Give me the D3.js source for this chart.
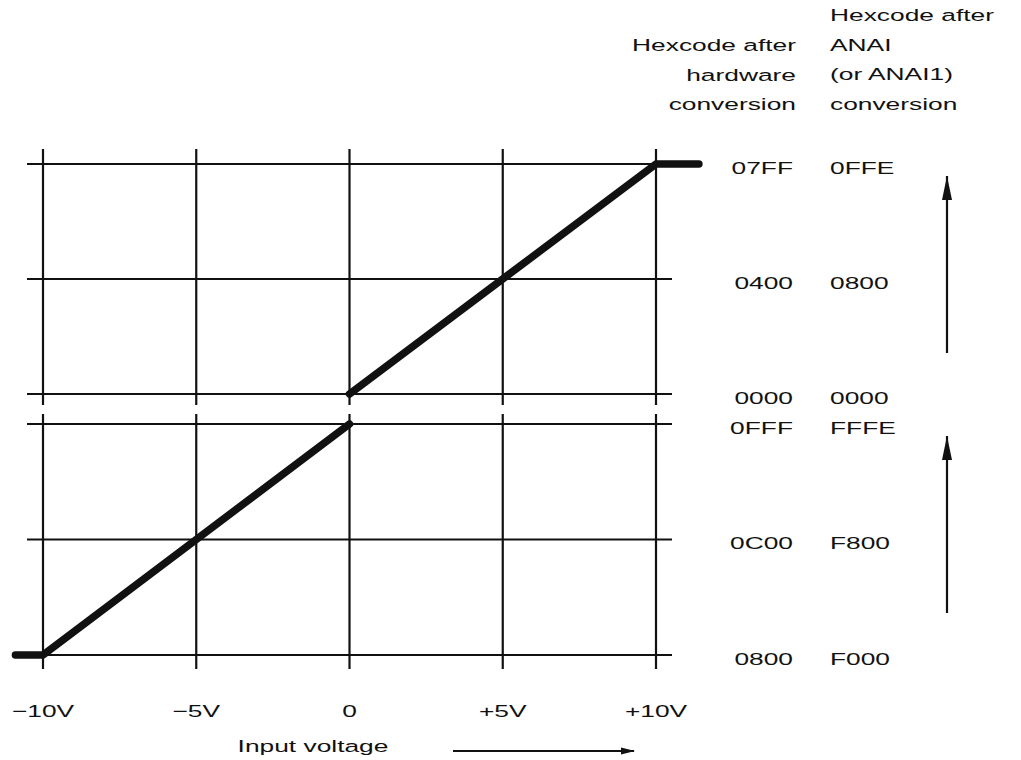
<!DOCTYPE html>
<html>
<head>
<meta charset="utf-8">
<script src="https://cdn.jsdelivr.net/npm/d3@7"></script>
<style>
  html, body { margin: 0; padding: 0; background: #fff; }
  svg { display: block; }
  text { font-family: "Liberation Sans", Arial, Helvetica, sans-serif; fill: #111; }
</style>
</head>
<body>
<svg id="chart" width="1021" height="760"></svg>
<script>
// ---- data ----
const voltTicks = [-10, -5, 0, 5, 10];
const voltLabels = ["\u221210V", "\u22125V", "0", "+5V", "+10V"];
const upperCodes = [0x0000, 0x0400, 0x07FF];
const upperHwLabels = ["0000", "0400", "07FF"];
const upperAnaiLabels = ["0000", "0800", "0FFE"];
const lowerCodes = [0x0800, 0x0C00, 0x0FFF];
const lowerHwLabels = ["0800", "0C00", "0FFF"];
const lowerAnaiLabels = ["F000", "F800", "FFFE"];
// transfer characteristic: [voltage, hardware code]
const upperCurve = [[0, 0x0000], [10, 0x07FF], [11.4, 0x07FF]];
const lowerCurve = [[-10.9, 0x0800], [-10, 0x0800], [0, 0x0FFF]];
const headerHw = ["Hexcode after", "hardware", "conversion"];
const headerAnai = ["Hexcode after", "ANAI", "(or ANAI1)", "conversion"];
const xTitle = "Input voltage";

// ---- layout ----
const svg = d3.select("#chart");
const x = d3.scaleLinear().domain([-10, 10]).range([43, 656]);
const yUp = d3.scaleLinear().domain([0x0000, 0x07FF]).range([394, 164]);
const yLo = d3.scaleLinear().domain([0x0800, 0x0FFF]).range([655, 424]);
const SX = 1.55;       // horizontal stretch of the lettering
const FS = 17;

function label(g, txt, px, py, anchor) {
  g.append("text")
    .attr("transform", `translate(${px},${py}) scale(${SX},1)`)
    .attr("text-anchor", anchor)
    .style("font-size", FS + "px")
    .text(txt);
}

const grid = svg.append("g").attr("stroke", "#111").attr("fill", "none");

function panel(yScale, codes, vTop, vBot) {
  grid.selectAll(null).data(codes).enter().append("line")
    .attr("x1", x.range()[0] - 16).attr("x2", x.range()[1] + 16)
    .attr("y1", d => yScale(d)).attr("y2", d => yScale(d))
    .attr("stroke-width", 2);
  grid.selectAll(null).data(voltTicks).enter().append("line")
    .attr("x1", d => x(d)).attr("x2", d => x(d))
    .attr("y1", yScale.range()[1] - vTop).attr("y2", yScale.range()[0] + vBot)
    .attr("stroke-width", 2.2);
}
panel(yUp, upperCodes, 15, 11);
panel(yLo, lowerCodes, 10, 14);

// transfer curve
const lineUp = d3.line().x(d => x(d[0])).y(d => yUp(d[1]));
const lineLo = d3.line().x(d => x(d[0])).y(d => yLo(d[1]));
[[upperCurve, lineUp], [lowerCurve, lineLo]].forEach(([data, gen]) => {
  svg.append("path").datum(data).attr("d", gen)
    .attr("fill", "none").attr("stroke", "#111")
    .attr("stroke-width", 7.5).attr("stroke-linecap", "round").attr("stroke-linejoin", "round");
});

// right-hand code labels
const lab = svg.append("g");
upperCodes.forEach((c, i) => {
  label(lab, upperHwLabels[i], 793, yUp(c) + 10, "end");
  label(lab, upperAnaiLabels[i], 830, yUp(c) + 10, "start");
});
lowerCodes.forEach((c, i) => {
  label(lab, lowerHwLabels[i], 793, yLo(c) + 10, "end");
  label(lab, lowerAnaiLabels[i], 830, yLo(c) + 10, "start");
});

// header
headerHw.forEach((t, i) => label(lab, t, 796, 51 + i * 29.5, "end"));
headerAnai.forEach((t, i) => label(lab, t, 830, 21 + i * 29.5, "start"));

// x labels
voltTicks.forEach((v, i) => label(lab, voltLabels[i], x(v), 717, "middle"));
label(lab, xTitle, 313, 752, "middle");

// arrows
const defs = svg.append("defs");
defs.append("marker")
  .attr("id", "ah").attr("viewBox", "0 0 14 10").attr("refX", 13).attr("refY", 5)
  .attr("markerWidth", 14).attr("markerHeight", 10).attr("markerUnits", "userSpaceOnUse")
  .attr("orient", "auto")
  .append("path").attr("d", "M0,1.5 L14,5 L0,8.5 Z").attr("fill", "#111");
defs.append("marker")
  .attr("id", "av").attr("viewBox", "0 0 10 24").attr("refX", 5).attr("refY", 0)
  .attr("markerWidth", 10).attr("markerHeight", 24).attr("markerUnits", "userSpaceOnUse")
  .attr("orient", "0")
  .append("path").attr("d", "M5,0 L10,24 L0,24 Z").attr("fill", "#111");

const arrows = svg.append("g").attr("stroke", "#111").attr("stroke-width", 2.2);
arrows.append("line").attr("x1", 947).attr("x2", 947).attr("y1", 353).attr("y2", 176)
  .attr("marker-end", "url(#av)");
arrows.append("line").attr("x1", 947).attr("x2", 947).attr("y1", 613).attr("y2", 436)
  .attr("marker-end", "url(#av)");
arrows.append("line").attr("x1", 453).attr("x2", 634).attr("y1", 751).attr("y2", 751)
  .attr("marker-end", "url(#ah)");
</script>
</body>
</html>
